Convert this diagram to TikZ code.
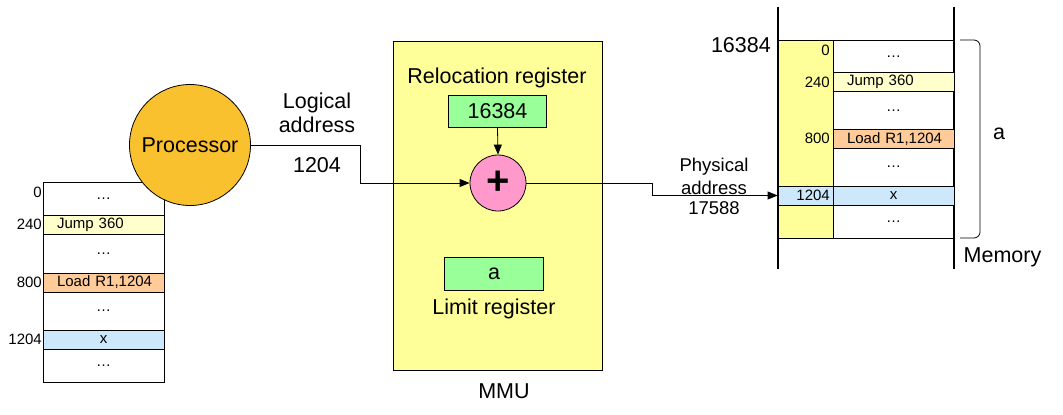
\documentclass[tikz,border=0pt]{standalone}
\usepackage{fontspec}
\setmainfont{Liberation Sans}
\usetikzlibrary{arrows.meta}
\definecolor{mmuY}{HTML}{FFFF99}
\definecolor{jumpY}{HTML}{FFFFCC}
\definecolor{loadO}{HTML}{FFCC99}
\definecolor{xBlue}{HTML}{CCE8FA}
\definecolor{regG}{HTML}{99FF99}
\definecolor{plusP}{HTML}{FF99CC}
\definecolor{procO}{HTML}{FAC12E}
\tikzset{
  big/.style={font=\fontsize{21.5}{24}\selectfont, inner sep=0pt},
  small/.style={font=\fontsize{15}{17}\selectfont, inner sep=0pt},
  cell/.style={draw=black, line width=0.8pt, minimum width=121pt, inner sep=0pt, font=\fontsize{15}{17}\selectfont},
  cellL/.style={cell, text width=107pt, align=left},
  lbl/.style={small, anchor=east},
  reg/.style={draw=black, line width=0.8pt, fill=regG, inner sep=0pt},
  conn/.style={line width=0.8pt},
  arr/.style={conn, -{Triangle[length=10pt,width=8pt]}},
}
\begin{document}
\begin{tikzpicture}[x=1pt,y=-1pt]
\useasboundingbox (0,0) rectangle (1063,415);

% ---------- left memory ----------
\node[cell, minimum height=33pt] (l0) at (103.5,198.5) {\ldots};
\node[cellL, minimum height=19pt, fill=jumpY] (l1) at (103.5,224.5) {\hspace*{7pt}Jump 360};
\node[cell, minimum height=39pt] (l2) at (103.5,253.5) {\ldots};
\node[cellL, minimum height=19pt, fill=loadO] (l3) at (103.5,282.5) {\hspace*{7pt}Load R1,1204};
\node[cell, minimum height=38pt] (l4) at (103.5,311) {\ldots};
\node[cell, minimum height=19pt, fill=xBlue] (l5) at (103.5,339.5) {x};
\node[cell, minimum height=33pt] (l6) at (103.5,365.5) {\ldots};
\node[lbl] (la0) at (42,192) {0};
\node[lbl] (la1) at (42,224.5) {240};
\node[lbl] (la3) at (42,282.5) {800};
\node[lbl] (la5) at (42,339.5) {1204};

% ---------- processor ----------
\node[circle, draw=black, line width=0.8pt, fill=procO, minimum size=121pt, inner sep=0pt, big] (proc) at (190,145) {Processor};

% ---------- MMU ----------
\node[draw=black, line width=0.8pt, fill=mmuY, minimum width=209pt, minimum height=329pt, inner sep=0pt] (mmu) at (497.5,205.5) {};
\node[big] (mmulbl) at (504,391) {MMU};
\node[big] (reloc) at (497,77.5) {Relocation register};
\node[reg, minimum width=98pt, minimum height=32.5pt, big] (rreg) at (497.5,111.5) {16384};
\node[circle, draw=black, line width=0.8pt, fill=plusP, minimum size=56pt, inner sep=0pt] (plus) at (498,183) {};
\node[inner sep=0pt, font=\fontsize{40}{40}\selectfont\bfseries] (plussign) at (498,183) {+};
\node[reg, minimum width=99pt, minimum height=33pt, big] (lreg) at (494,273.5) {a};
\node[big] (limit) at (494,309) {Limit register};

% ---------- logical address ----------
\node[big] (logl1) at (317,103) {Logical};
\node[big] (logl2) at (317,125) {address};
\node[big] (logl3) at (317,165) {1204};
\coordinate (lc) at (360,0);
\draw[arr] (proc.east) -| (lc |- plus.west) -- (plus.west);
\draw[arr] (rreg.south) -- (plus.north);

% ---------- right memory ----------
\draw[line width=1.6pt] (778,7) -- (778,269);
\draw[line width=1.6pt] (954,7) -- (954,269);
\node[draw=black, line width=0.8pt, fill=mmuY, minimum width=55pt, minimum height=198pt, inner sep=0pt] (ycol) at (805.5,139) {};
\node[cell, minimum height=32.7pt] (r0) at (893.5,56.35) {\ldots};
\node[cellL, minimum height=19pt, fill=jumpY] (r1) at (893.5,82.2) {\hspace*{7pt}Jump 360};
\node[cell, minimum height=37.6pt] (r2) at (893.5,110.5) {\ldots};
\node[cellL, minimum height=19pt, fill=loadO] (r3) at (893.5,138.8) {\hspace*{7pt}Load R1,1204};
\node[cell, minimum height=37.7pt] (r4) at (893.5,167.15) {\ldots};
\node[cell, minimum height=19pt, fill=xBlue] (r5) at (893.5,195.5) {x};
\node[cell, minimum height=33pt] (r6) at (893.5,221.5) {\ldots};
\node[draw=black, line width=0.8pt, fill=xBlue, minimum width=55pt, minimum height=19pt, inner sep=0pt] (rb5) at (805.5,195.5) {};
\node[lbl] (ra0) at (830,50) {0};
\node[lbl] (ra1) at (830,82.2) {240};
\node[lbl] (ra3) at (830,138.8) {800};
\node[lbl] (ra5) at (830,195.5) {1204};
\node[big, anchor=east] (base) at (771,45) {16384};
\draw[line width=0.8pt, rounded corners=6pt] (960,40) -- (980,40) -- (980,238) -- (960,238);
\node[big] (alen) at (999,134) {a};
\node[big] (memlbl) at (1002.5,257) {Memory};

% ---------- physical address ----------
\node[font=\fontsize{18.5}{20}\selectfont, inner sep=0pt] (ph1) at (714,166.5) {Physical};
\node[font=\fontsize{18.5}{20}\selectfont, inner sep=0pt] (ph2) at (714,187.5) {address};
\node[font=\fontsize{18.5}{20}\selectfont, inner sep=0pt] (ph3) at (714,208) {17588};
\coordinate (pc) at (652,0);
\draw[arr] (plus.east) -| (pc |- rb5.west) -- (rb5.west);
\end{tikzpicture}
\end{document}
